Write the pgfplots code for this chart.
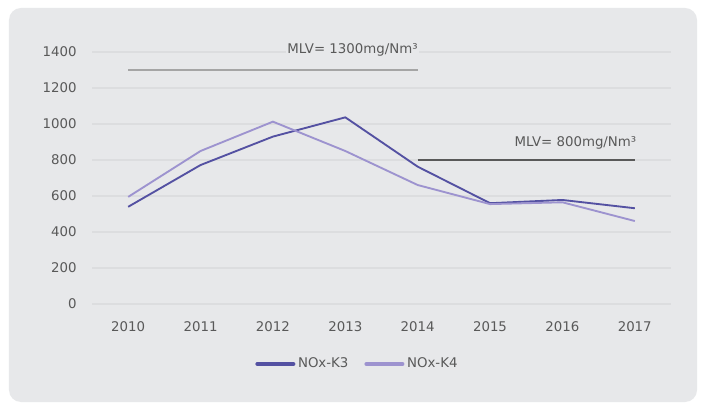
\documentclass[border=0pt]{standalone}
\usepackage{pgfplots}
\pgfplotsset{compat=1.18}
\usepackage{fontspec}
\setmainfont{DejaVu Sans}
\definecolor{bgc}{HTML}{E7E8EA}
\definecolor{gridc}{HTML}{DCDDDF}
\definecolor{txtc}{HTML}{595959}
\definecolor{kthree}{HTML}{5451A2}
\definecolor{kfour}{HTML}{9D93CF}
\definecolor{mlvone}{HTML}{A5A5A5}
\definecolor{mlvtwo}{HTML}{595959}
\begin{document}
\begin{tikzpicture}
\useasboundingbox (-69pt,-74.25pt) rectangle (457.5pt,228pt);
\fill[white] (-69pt,-74.25pt) rectangle (457.5pt,228pt);
\fill[bgc, rounded corners=9pt] (-62.25pt,-73.5pt) rectangle (453.75pt,222pt);
\begin{axis}[
  at={(0,0)}, anchor=south west,
  scale only axis, width=434.25pt, height=189pt,
  xmin=2009.5, xmax=2017.5, ymin=0, ymax=1400,
  xtick={2010,...,2017}, ytick={0,200,...,1400},
  xticklabel style={/pgf/number format/1000 sep={}},
  /pgf/number format/assume math mode=true,
  /pgf/number format/1000 sep={},
  tick label style={font=\fontsize{10}{12}\selectfont, text=txtc},
  axis line style={draw=none},
  major tick length=0pt,
  ymajorgrids, grid style={gridc, line width=0.8pt},
  yticklabel style={xshift=-8pt},
  xticklabel style={yshift=-10pt},
  clip=false,
  legend columns=2,
  legend style={at={(0.459,-0.238)}, anchor=center, draw=none, fill=none,
    font=\fontsize{10}{12}\selectfont, text=txtc,
    /tikz/every even column/.append style={column sep=10pt}},
  legend cell align=left,
]
\addplot[kthree, line width=1.4pt, mark=none,
  legend image code/.code={\draw[kthree, line width=3pt, line cap=round] (0pt,0pt) -- (27pt,0pt);}]
  coordinates {(2010,540) (2011,772) (2012,930) (2013,1037) (2014,763) (2015,560) (2016,578) (2017,532)};
\addlegendentry{NOx-K3}
\addplot[kfour, line width=1.4pt, mark=none,
  legend image code/.code={\draw[kfour, line width=3pt, line cap=round] (0pt,0pt) -- (27pt,0pt);}]
  coordinates {(2010,595) (2011,850) (2012,1013) (2013,850) (2014,661) (2015,555) (2016,565) (2017,461)};
\addlegendentry{NOx-K4}
\addplot[mlvone, line width=1.6pt, mark=none, forget plot]
  coordinates {(2010,1300) (2014,1300)};
\addplot[mlvtwo, line width=1.6pt, mark=none, forget plot]
  coordinates {(2014,800) (2017,800)};
\node[font=\fontsize{10}{12}\selectfont, text=txtc, fill=bgc, inner sep=1pt] at (axis cs:2013.1,1410) {MLV= 1300mg/Nm³};
\node[font=\fontsize{10}{12}\selectfont, text=txtc] at (axis cs:2016.18,893) {MLV= 800mg/Nm³};
\end{axis}
\end{tikzpicture}
\end{document}
